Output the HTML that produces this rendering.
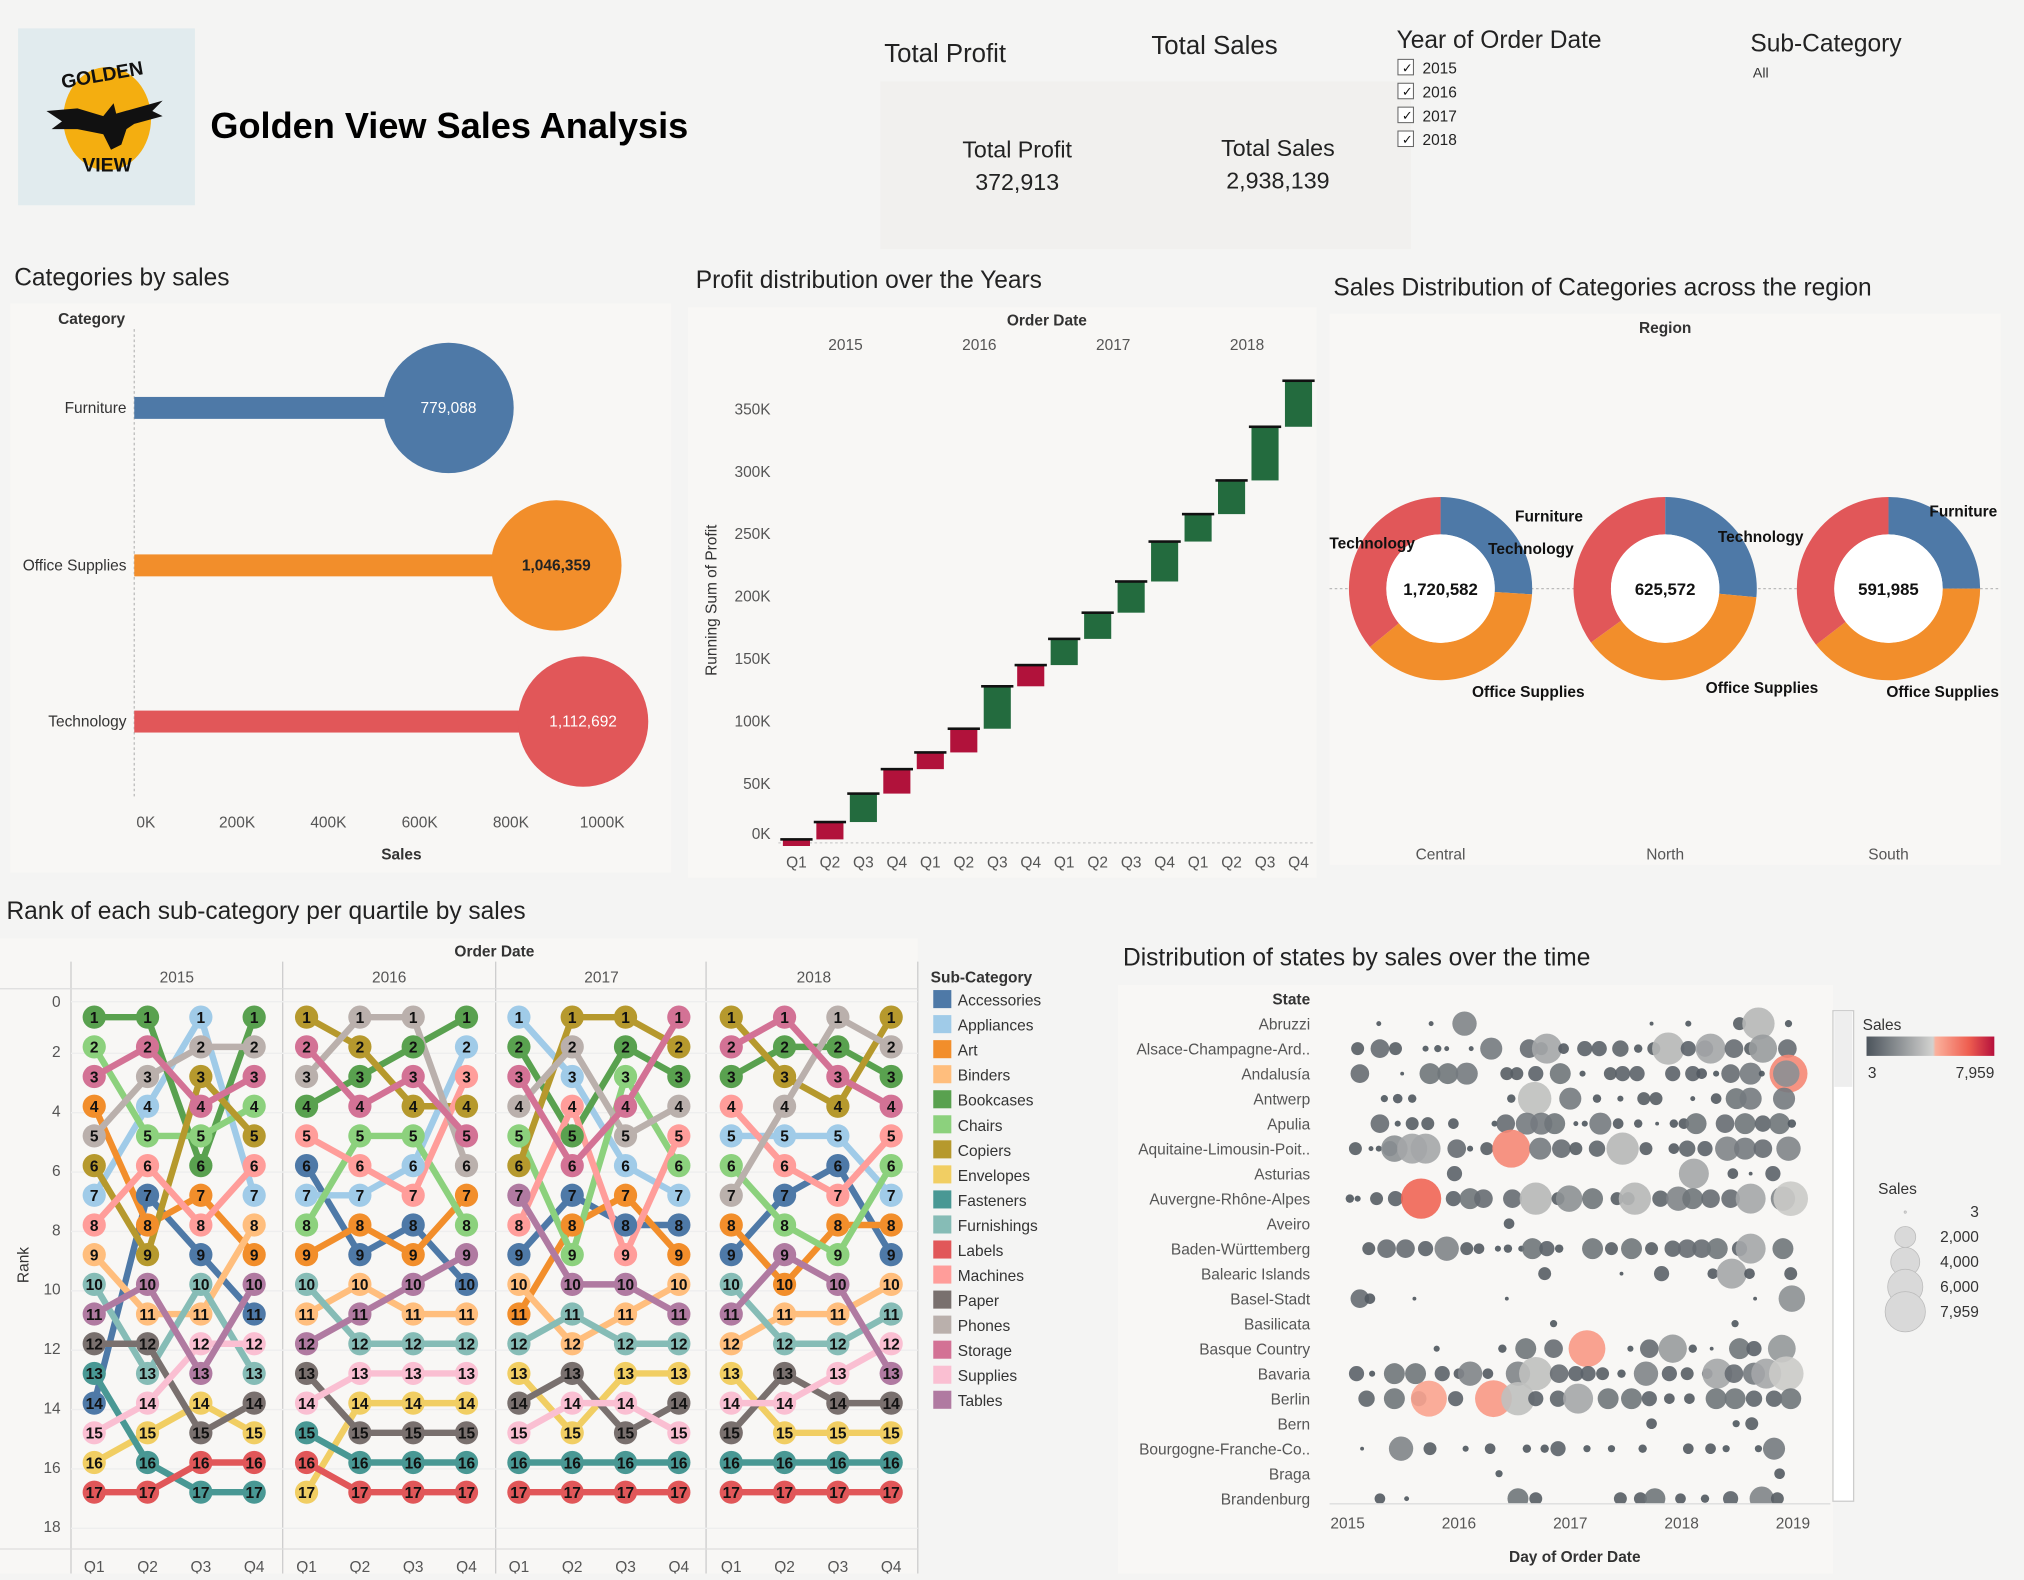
<!DOCTYPE html>
<html><head><meta charset="utf-8"><style>
html,body{margin:0;padding:0;width:2024px;height:1574px;overflow:hidden;background:#f4f4f3;}
#wrap{position:absolute;left:0;top:0;width:1568px;height:1219px;transform:scale(1.29082);transform-origin:0 0;}
svg text{font-family:"Liberation Sans",sans-serif;}
</style></head><body>
<div id="wrap">
<svg id="s" width="1568" height="1219" viewBox="0 0 1568 1219" xmlns="http://www.w3.org/2000/svg">
<g>
<rect x="14" y="22" width="137" height="137" fill="#e1ebee"/>
<ellipse cx="83" cy="92" rx="34" ry="40" fill="#f4ae10"/>
<path d="M36 86 L60 84 L80 90 L88 80 L90 88 L126 78 L118 86 L126 90 L104 96 L98 100 L94 112 L86 116 L80 104 L60 100 L40 100 L48 94 Z" fill="#111"/>
<text x="80" y="63" font-size="15" font-weight="bold" text-anchor="middle" fill="#111" transform="rotate(-10 80 63)">GOLDEN</text>
<text x="83" y="133" font-size="15" font-weight="bold" text-anchor="middle" fill="#111">VIEW</text>
</g>
<text x="163" y="107" font-size="28" font-weight="bold" fill="#000">Golden View Sales Analysis</text>
<rect x="682" y="63" width="411" height="130" fill="#f1f0ee"/>
<text x="685" y="48" font-size="20" fill="#222">Total Profit</text>
<text x="892" y="42" font-size="20" fill="#222">Total Sales</text>
<text x="788" y="122" font-size="18" text-anchor="middle" fill="#222">Total Profit</text>
<text x="788" y="147" font-size="18" text-anchor="middle" fill="#222">372,913</text>
<text x="990" y="121" font-size="18" text-anchor="middle" fill="#222">Total Sales</text>
<text x="990" y="146" font-size="18" text-anchor="middle" fill="#222">2,938,139</text>
<text x="1082" y="37" font-size="19" fill="#222">Year of Order Date</text>
<g id="yearfilter"></g>
<text x="1356" y="40" font-size="19" fill="#222">Sub-Category</text>
<text x="1358" y="60" font-size="11" fill="#333">All</text>

<text x="11" y="221" font-size="19" fill="#222">Categories by sales</text>
<text x="539" y="223" font-size="19" fill="#222">Profit distribution over the Years</text>
<text x="1033" y="229" font-size="19" fill="#222">Sales Distribution of Categories across the region</text>
<text x="5" y="712" font-size="19" fill="#222">Rank of each sub-category per quartile by sales</text>
<text x="870" y="748" font-size="19" fill="#222">Distribution of states by sales over the time</text>

<rect x="8" y="235" width="512" height="441" fill="#f8f7f5"/>
<rect x="533" y="238" width="487" height="442" fill="#f8f7f5"/>
<rect x="1030" y="243" width="520" height="427" fill="#f8f7f5"/>
<rect x="0" y="727" width="711" height="492" fill="#f8f7f5"/>
<rect x="866" y="763" width="554" height="456" fill="#f8f7f5"/>

<g id="lolli"></g>
<g id="water"></g>
<g id="donut"></g>
<g id="bump"></g>
<g id="dots"></g>
</svg>
</div>
<script>
const years = ["2015","2016","2017","2018"];
const categories = ["Furniture","Office Supplies","Technology"];
const categorySales = [779088,1046359,1112692];
const categoryColors = ["#4e79a7","#f28e2b","#e15759"];
const salesTicks = [0,200,400,600,800,1000];

const quarters = ["Q1","Q2","Q3","Q4"];
const quarterProfit = [5.3,13.9,22.8,19.6,13.4,19,34,17,21,21,25,32,22,27,43,36.9];
const quarterNegativeFlag = [1,1,0,1,1,1,0,1,0,0,0,0,0,0,0,0];
const profitTicks = [0,50,100,150,200,250,300,350];

const regions = ["Central","North","South"];
const regionTotals = ["1,720,582","625,572","591,985"];
const regionFurniture = [0.26,0.265,0.25];
const regionOffice = [0.38,0.385,0.395];
const regionTech = [0.36,0.35,0.355];

const subNames = ["Accessories","Appliances","Art","Binders","Bookcases","Chairs","Copiers","Envelopes","Fasteners","Furnishings","Labels","Machines","Paper","Phones","Storage","Supplies","Tables"];
const subCodes = ["Acc","App","Art","Bin","Boo","Cha","Cop","Env","Fas","Fur","Lab","Mac","Pap","Pho","Sto","Sup","Tab"];
const subColors = ["#4e79a7","#a0cbe8","#f28e2b","#ffbe7d","#59a14f","#8cd17d","#b6992d","#f1ce63","#499894","#86bcb6","#e15759","#ff9d9a","#79706e","#bab0ac","#d37295","#fabfd2","#b07aa1"];
const rankOrders = [
"Boo,Cha,Sto,Art,Pho,Cop,App,Mac,Bin,Fur,Tab,Pap,Fas,Acc,Sup,Env,Lab",
"Boo,Sto,Pho,App,Cha,Mac,Acc,Art,Cop,Tab,Bin,Pap,Fur,Sup,Env,Fas,Lab",
"App,Pho,Cop,Sto,Cha,Boo,Art,Mac,Acc,Fur,Bin,Sup,Tab,Env,Pap,Lab,Fas",
"Boo,Pho,Sto,Cha,Cop,Mac,App,Bin,Art,Tab,Acc,Sup,Fur,Pap,Env,Lab,Fas",
"Cop,Sto,Pho,Boo,Mac,Acc,App,Cha,Art,Fur,Bin,Tab,Pap,Sup,Fas,Lab,Env",
"Pho,Cop,Boo,Sto,Cha,Mac,App,Art,Acc,Bin,Tab,Fur,Sup,Env,Pap,Fas,Lab",
"Pho,Boo,Sto,Cop,Cha,App,Mac,Acc,Art,Tab,Bin,Fur,Sup,Env,Pap,Fas,Lab",
"Boo,App,Mac,Cop,Sto,Pho,Art,Cha,Tab,Acc,Bin,Fur,Sup,Env,Pap,Fas,Lab",
"App,Boo,Sto,Pho,Cha,Cop,Tab,Mac,Acc,Bin,Art,Fur,Env,Pap,Sup,Fas,Lab",
"Cop,Pho,App,Mac,Boo,Sto,Acc,Art,Cha,Tab,Fur,Bin,Pap,Sup,Env,Fas,Lab",
"Cop,Boo,Cha,Sto,Pho,App,Art,Acc,Mac,Tab,Bin,Fur,Env,Sup,Pap,Fas,Lab",
"Sto,Cop,Boo,Pho,Mac,Cha,App,Acc,Art,Bin,Tab,Fur,Env,Pap,Sup,Fas,Lab",
"Cop,Sto,Boo,Mac,App,Cha,Pho,Art,Acc,Fur,Tab,Bin,Env,Sup,Pap,Fas,Lab",
"Sto,Boo,Cop,Pho,App,Mac,Acc,Cha,Tab,Art,Bin,Fur,Pap,Sup,Env,Fas,Lab",
"Pho,Boo,Sto,Cop,App,Acc,Mac,Art,Cha,Tab,Bin,Fur,Sup,Pap,Env,Fas,Lab",
"Cop,Pho,Boo,Sto,Mac,Cha,App,Art,Acc,Bin,Fur,Sup,Tab,Pap,Env,Fas,Lab"];
const rankTicks = [0,2,4,6,8,10,12,14,16,18];

const states = ["Abruzzi","Alsace-Champagne-Ard..","Andalusía","Antwerp","Apulia","Aquitaine-Limousin-Poit..","Asturias","Auvergne-Rhône-Alpes","Aveiro","Baden-Württemberg","Balearic Islands","Basel-Stadt","Basilicata","Basque Country","Bavaria","Berlin","Bern","Bourgogne-Franche-Co..","Braga","Brandenburg"];
const statePoints = [
[2015.28,60,2015.75,60,2016.05,2760,2017.73,30,2018.06,110,2018.52,690,2018.69,5030,2018.96,170],
[2015.09,690,2015.29,1550,2015.43,690,2015.70,110,2015.81,170,2015.89,60,2016.11,60,2016.29,2240,2016.63,1550,2016.74,690,2016.79,4300,2016.94,440,2017.13,990,2017.26,990,2017.45,1170,2017.61,250,2017.75,690,2017.88,5030,2018.06,990,2018.21,1170,2018.26,4300,2018.47,1550,2018.62,690,2018.73,3800,2018.95,1550],
[2015.11,1550,2015.49,28,2015.74,2000,2015.90,2000,2016.07,2240,2016.43,690,2016.52,690,2016.69,990,2016.91,2000,2017.11,110,2017.36,690,2017.47,990,2017.60,990,2017.92,990,2018.10,990,2018.18,440,2018.31,110,2018.44,1550,2018.62,2240,2018.72,110,2018.96,7050,2018.94,3300],
[2015.33,170,2015.45,340,2015.58,250,2016.47,250,2016.68,5400,2017.00,2240,2017.24,250,2017.45,110,2017.66,690,2017.77,690,2018.10,60,2018.31,440,2018.49,2000,2018.62,2240,2018.92,2240],
[2015.29,1550,2015.45,110,2015.58,690,2015.72,690,2015.95,440,2016.32,110,2016.42,1550,2016.61,2240,2016.74,2240,2016.86,2000,2017.05,60,2017.13,110,2017.27,2240,2017.43,440,2017.61,250,2017.78,28,2017.93,250,2018.02,440,2018.13,2000,2018.39,1550,2018.57,2000,2018.73,1170,2018.88,2000,2018.99,250],
[2015.07,690,2015.21,60,2015.28,110,2015.38,990,2015.42,3300,2015.58,4300,2015.70,4300,2015.98,1550,2016.10,110,2016.25,690,2016.47,7050,2016.73,2240,2016.92,1550,2017.05,690,2017.24,1170,2017.47,5030,2017.68,690,2017.93,440,2018.05,1170,2018.21,990,2018.41,2760,2018.57,2240,2018.73,1550,2018.96,2760],
[2015.96,990,2018.11,4300,2018.46,440,2018.62,28,2018.82,990],
[2015.02,250,2015.09,110,2015.26,690,2015.43,990,2015.66,7959,2015.95,990,2016.10,2000,2016.22,1550,2016.48,1550,2016.69,5030,2016.89,690,2016.99,3300,2017.20,2000,2017.42,690,2017.52,690,2017.58,5030,2017.81,1170,2017.97,2760,2018.10,2000,2018.26,1550,2018.44,1550,2018.62,4300,2018.91,2760,2018.98,5800],
[2016.45,440],
[2015.19,690,2015.35,1550,2015.52,1550,2015.70,990,2015.89,2760,2016.07,690,2016.18,440,2016.35,110,2016.44,250,2016.56,110,2016.66,2000,2016.79,990,2016.90,250,2017.20,2000,2017.37,690,2017.55,2000,2017.73,690,2017.92,1170,2018.05,1550,2018.18,1550,2018.32,2000,2018.52,990,2018.62,4300,2018.91,2000],
[2016.77,690,2017.46,28,2017.82,990,2018.28,440,2018.45,4300,2018.61,440,2018.98,690],
[2015.11,1550,2015.20,440,2015.60,28,2016.43,28,2018.66,28,2018.99,3300],
[2016.85,170,2018.48,170],
[2015.80,110,2016.39,250,2016.60,2000,2016.85,1550,2017.15,6600,2017.54,110,2017.71,1550,2017.92,3800,2018.10,250,2018.27,28,2018.52,2000,2018.65,990,2018.90,3650],
[2015.08,990,2015.22,110,2015.42,2000,2015.61,2000,2015.85,990,2016.00,440,2016.10,2760,2016.26,440,2016.53,2760,2016.69,5400,2016.90,1550,2017.05,990,2017.16,990,2017.29,690,2017.46,250,2017.68,2760,2017.89,990,2018.05,690,2018.23,440,2018.32,4300,2018.47,1550,2018.65,2240,2018.76,4300,2018.94,5800],
[2015.17,1170,2015.42,2000,2015.64,990,2015.73,6300,2015.97,990,2016.31,6600,2016.53,5400,2016.69,990,2016.89,1170,2017.07,4300,2017.34,2000,2017.55,2000,2017.71,990,2017.89,440,2018.07,440,2018.31,2000,2018.48,2000,2018.65,1170,2018.83,1170,2018.98,2000],
[2017.73,440,2018.49,170,2018.63,690],
[2015.13,28,2015.48,2760,2015.74,690,2016.06,110,2016.28,440,2016.61,250,2016.77,250,2016.89,990,2017.15,170,2017.37,170,2017.65,250,2018.06,440,2018.26,440,2018.40,170,2018.69,170,2018.83,2240],
[2016.36,170,2018.88,440],
[2015.29,440,2015.53,60,2016.53,2000,2016.69,690,2017.45,690,2017.63,690,2017.76,2000,2017.99,440,2018.21,250,2018.44,990,2018.72,2760,2018.86,690]
];
const dateTicks = [2015,2016,2017,2018,2019];
const legendSizes = [3,2000,4000,6000,7959];
const salesMax = 7959;

const NS="http://www.w3.org/2000/svg";
function mk(tag, parent, attrs, txt){const e=document.createElementNS(NS,tag);for(const k in attrs)e.setAttribute(k,attrs[k]);if(txt!==undefined)e.textContent=txt;parent.appendChild(e);return e;}
function fmt(n){return n.toLocaleString("en-US");}

const yf=document.getElementById("yearfilter");
years.forEach((y,i)=>{
  const yy=52+i*18.5;
  const b=mk("rect",yf,{x:1083,y:yy-6,width:12,height:12,fill:"#fff",stroke:"#666","stroke-width":0.8});
  
  
  mk("text",yf,{x:1086,y:yy+4,"font-size":10,fill:"#111"},"✓");
  const t=mk("text",yf,{x:1102,y:yy+5,"font-size":12,fill:"#222"},y);
  
  
});

(function(){
  const g=document.getElementById("lolli");
  const x0=104, sx=v=>x0+v/1000*0.3125;
  const tx=t=>113+t*0.3535;
  const ys=[316,438,559];
  mk("text",g,{x:71,y:251,"font-size":12,"text-anchor":"middle",fill:"#333","font-weight":"bold"},"Category");
  mk("line",g,{x1:x0,y1:255,x2:x0,y2:618,stroke:"#bbb","stroke-dasharray":"2,2"});
  categories.forEach((c,i)=>{
    const y=ys[i];
    const l=mk("text",g,{x:98,y:y+4,"font-size":12,"text-anchor":"end",fill:"#333"},c);
    
    
    const r=mk("rect",g,{x:x0,y:y-8.5,width:sx(categorySales[i])-x0,height:17,fill:categoryColors[i]});
    
    
    const c2=mk("circle",g,{cx:sx(categorySales[i]),cy:y,r:50.5,fill:categoryColors[i]});
    
    
    mk("text",g,{x:sx(categorySales[i]),y:y+4,"font-size":12,"text-anchor":"middle",fill:i==1?"#222":"#fff","font-weight":i==1?"bold":"normal"},fmt(categorySales[i]));
  });
  salesTicks.forEach(t=>{mk("text",g,{x:tx(t),y:641,"font-size":12,"text-anchor":"middle",fill:"#555"},t+"K");});
  mk("text",g,{x:311,y:666,"font-size":12,"text-anchor":"middle",fill:"#333","font-weight":"bold"},"Sales");
})();

(function(){
  const g=document.getElementById("water");
  const y=v=>655.4-v*0.9666;
  const x=i=>617+i*25.93;
  mk("text",g,{x:811,y:252,"font-size":12,"text-anchor":"middle",fill:"#333","font-weight":"bold"},"Order Date");
  years.forEach((yr,i)=>mk("text",g,{x:655+i*103.7,y:271,"font-size":12,"text-anchor":"middle",fill:"#555"},yr));
  profitTicks.forEach(t=>mk("text",g,{x:597,y:(t==0?646:y(t))+4,"font-size":12,"text-anchor":"end",fill:"#555"},t+"K"));
  mk("text",g,{x:555,y:465,"font-size":12,"text-anchor":"middle",fill:"#333",transform:"rotate(-90 555 465)"},"Running Sum of Profit");
  mk("line",g,{x1:603,y1:653,x2:1018,y2:653,stroke:"#ccc","stroke-dasharray":"2,2"});
  let run=0;
  quarterProfit.forEach((p,i)=>{
    const prev=run; run+=p;
    const b=mk("rect",g,{x:x(i)-10.5,y:y(run),width:21,height:y(prev)-y(run),fill:quarterNegativeFlag[i]?"#b1123b":"#236b3e"});
    
    
    mk("rect",g,{x:x(i)-12.5,y:y(run)-1,width:25,height:2,fill:"#111"});
    mk("text",g,{x:x(i),y:672,"font-size":12,"text-anchor":"middle",fill:"#555"},quarters[i%4]);
  });
})();

(function(){
  const g=document.getElementById("donut");
  mk("text",g,{x:1290,y:258,"font-size":12,"text-anchor":"middle",fill:"#333","font-weight":"bold"},"Region");
  mk("line",g,{x1:1030,y1:456,x2:1550,y2:456,stroke:"#bbb","stroke-dasharray":"2,2"});
  const cx=[1116,1290,1463], cy=456, R=71, r=42;
  function arc(x,a0,a1){const p=(a,rr)=>[x+rr*Math.sin(a),cy-rr*Math.cos(a)];const L=(a1-a0)>Math.PI?1:0;const[a,b]=p(a0,R),[c,d]=p(a1,R),[e,f]=p(a1,r),[h,k]=p(a0,r);return `M${a},${b}A${R},${R} 0 ${L} 1 ${c},${d}L${e},${f}A${r},${r} 0 ${L} 0 ${h},${k}Z`;}
  regions.forEach((rg,i)=>{
    const vals=[regionFurniture[i],regionOffice[i],regionTech[i]];
    let a=0;
    vals.forEach((v,j)=>{
      const a1=a+v*2*Math.PI;
      const pth=mk("path",g,{d:arc(cx[i],a,a1),fill:categoryColors[j]});
      
      
      a=a1;
    });
    mk("circle",g,{cx:cx[i],cy:cy,r:r,fill:"#fff"});
    mk("text",g,{x:cx[i],y:cy+5,"font-size":13,"text-anchor":"middle",fill:"#111","font-weight":"bold"},regionTotals[i]);
    mk("text",g,{x:cx[i],y:666,"font-size":12,"text-anchor":"middle",fill:"#555"},rg);
  });
  const lbl=[["Furniture",1200,404],["Technology",1063,425],["Office Supplies",1184,540],["Technology",1186,429],["Office Supplies",1365,537],["Technology",1364,420],["Furniture",1521,400],["Office Supplies",1505,540]];
  lbl.forEach(l=>mk("text",g,{x:l[1],y:l[2],"font-size":12,"text-anchor":"middle",fill:"#111","font-weight":"bold"},l[0]));
})();

(function(){
  const g=document.getElementById("bump");
  const yR=r=>765+r*23;
  const xQ=q=>73+Math.floor(q/4)*164.5+(q%4)*41.3;
  mk("text",g,{x:383,y:741,"font-size":12,"text-anchor":"middle",fill:"#333","font-weight":"bold"},"Order Date");
  [55,219,384,547,711].forEach(x=>mk("line",g,{x1:x,y1:745,x2:x,y2:1219,stroke:"#ccc"}));
  mk("line",g,{x1:0,y1:766,x2:711,y2:766,stroke:"#ddd"});
  mk("line",g,{x1:0,y1:1200,x2:711,y2:1200,stroke:"#ddd"});
  years.forEach((yr,i)=>mk("text",g,{x:137+i*164.5,y:761,"font-size":12,"text-anchor":"middle",fill:"#555"},yr));
  rankTicks.forEach(t=>{mk("text",g,{x:47,y:yR(t)+(t==0?15:8),"font-size":12,"text-anchor":"end",fill:"#555"},t);
    mk("line",g,{x1:55,y1:yR(t)+(t==0?11:5),x2:711,y2:yR(t)+(t==0?11:5),stroke:"#eee"});});
  mk("text",g,{x:22,y:980,"font-size":12,"text-anchor":"middle",fill:"#333",transform:"rotate(-90 22 980)"},"Rank");
  for(let q=0;q<16;q++) mk("text",g,{x:xQ(q),y:1218,"font-size":12,"text-anchor":"middle",fill:"#555"},quarters[q%4]);
  const rank=rankOrders.map(s=>s.split(","));
  const lines=mk("g",g,{}), dots=mk("g",g,{});
  subCodes.forEach((code,si)=>{
    for(let yi=0;yi<4;yi++){
      const pts=[];
      for(let k=0;k<4;k++){const q=yi*4+k;pts.push(xQ(q)+","+yR(rank[q].indexOf(code)+1));}
      const pl=mk("polyline",lines,{points:pts.join(" "),fill:"none",stroke:subColors[si],"stroke-width":5,"stroke-linejoin":"round"});
      
      
    }
    for(let q=0;q<16;q++){
      const r=rank[q].indexOf(code)+1;
      const c=mk("circle",dots,{cx:xQ(q),cy:yR(r),r:9,fill:subColors[si]});
      
      
      mk("text",dots,{x:xQ(q),y:yR(r)+4.5,"font-size":12,"text-anchor":"middle",fill:"#111","font-weight":"bold"},r);
    }
  });
  mk("text",g,{x:721,y:761,"font-size":12,fill:"#333","font-weight":"bold"},"Sub-Category");
  subNames.forEach((n,i)=>{
    const yy=774+i*19.4;
    const sw=mk("rect",g,{x:723,y:yy-7,width:14,height:14,fill:subColors[i]});
    
    
    mk("text",g,{x:742,y:yy+5,"font-size":12,fill:"#333"},n);
  });
})();

(function(){
  const g=document.getElementById("dots");
  const xD=d=>1044+(d-2015)*86.25;
  const yS=i=>793+i*19.37;
  const rS=v=>15*Math.sqrt(v/salesMax)+0.6;
  function lerp(a,b,t){const pa=a.match(/\w\w/g).map(h=>parseInt(h,16)),pb=b.match(/\w\w/g).map(h=>parseInt(h,16));return "rgb("+pa.map((v,i)=>Math.round(v+(pb[i]-v)*t)).join(",")+")";}
  function col(v){const t=v/salesMax;return t<0.76?lerp("4c545c","d0d0ce",Math.pow(t/0.76,1.2)):lerp("fbac98","ef6555",(t-0.76)/0.24);}
  mk("text",g,{x:1015,y:778,"font-size":12,"text-anchor":"end",fill:"#333","font-weight":"bold"},"State");
  const defs=mk("defs",g,{});const cp=mk("clipPath",defs,{id:"dclip"});mk("rect",cp,{x:1030,y:778,width:388,height:387});
  const pg=mk("g",g,{"clip-path":"url(#dclip)"});
  states.forEach((s,i)=>{
    mk("text",g,{x:1015,y:yS(i)+4.5,"font-size":12,"text-anchor":"end",fill:"#555"},s);
    const arr=statePoints[i];
    for(let k=0;k<arr.length;k+=2){
      const c=mk("circle",pg,{cx:xD(arr[k]),cy:yS(i),r:rS(arr[k+1]),fill:col(arr[k+1]),"fill-opacity":0.9});
      
      
    }
  });
  dateTicks.forEach(t=>mk("text",g,{x:xD(t),y:1184,"font-size":12,"text-anchor":"middle",fill:"#555"},t));
  mk("line",g,{x1:1030,y1:1165,x2:1418,y2:1165,stroke:"#ddd"});
  mk("text",g,{x:1220,y:1210,"font-size":12,"text-anchor":"middle",fill:"#333","font-weight":"bold"},"Day of Order Date");
  const sb=mk("rect",g,{x:1420,y:783,width:16,height:380,fill:"#fff",stroke:"#ccc"});
  
  
  mk("rect",g,{x:1421,y:784,width:14,height:58,fill:"#eee"});
  const lg=mk("linearGradient",defs,{id:"cgrad"});
  [["0","#4c545c"],["0.52","#d2d2d0"],["0.54","#fbb19c"],["0.8","#ee5e50"],["1","#b5103c"]].forEach(s=>mk("stop",lg,{offset:s[0],"stop-color":s[1]}));
  mk("text",g,{x:1443,y:798,"font-size":12,fill:"#333"},"Sales");
  const cl=mk("rect",g,{x:1446,y:803,width:99,height:15,fill:"url(#cgrad)"});
  
  
  mk("text",g,{x:1447,y:835,"font-size":12,fill:"#333"},"3");
  mk("text",g,{x:1545,y:835,"font-size":12,"text-anchor":"end",fill:"#333"},"7,959");
  mk("text",g,{x:1455,y:925,"font-size":12,fill:"#333"},"Sales");
  legendSizes.forEach((v,i)=>{
    const yy=939+i*19.3;
    mk("circle",g,{cx:1476,cy:yy,r:rS(v),fill:"#d9d9d9",stroke:"#bbb","stroke-width":0.6});
    mk("text",g,{x:1533,y:yy+4,"font-size":12,"text-anchor":"end",fill:"#333"},fmt(v));
  });
})();
</script>
</body></html>
